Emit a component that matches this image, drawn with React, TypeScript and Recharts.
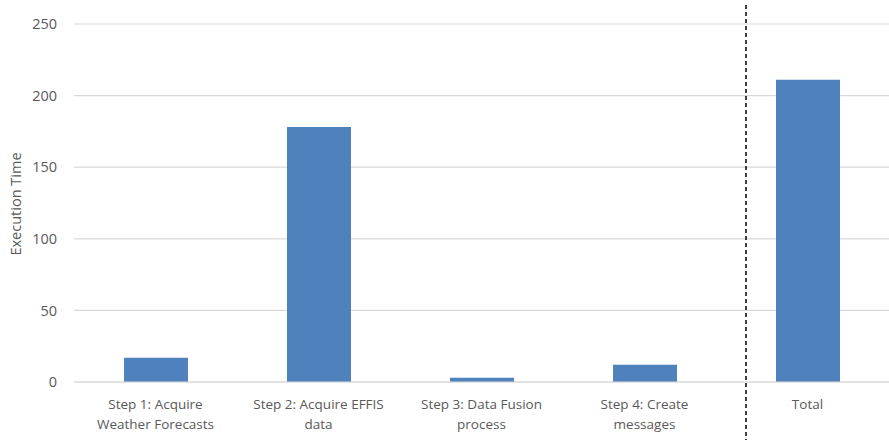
import React from 'react';
import {
  BarChart,
  Bar,
  XAxis,
  YAxis,
  CartesianGrid,
  ReferenceLine
} from 'recharts';

const categories = [
  'Step 1: Acquire Weather Forecasts',
  'Step 2: Acquire EFFIS data',
  'Step 3: Data Fusion process',
  'Step 4: Create messages',
  'Total'
];

const tickLines = [
  ['Step 1: Acquire', 'Weather Forecasts'],
  ['Step 2: Acquire EFFIS', 'data'],
  ['Step 3: Data Fusion', 'process'],
  ['Step 4: Create', 'messages'],
  ['Total']
];

const executionTimes = [17, 178, 3, 12, 211];

const yTicks = [0, 50, 100, 150, 200, 250];

const data = categories.map((name, i) => ({
  name,
  lines: tickLines[i],
  value: executionTimes[i]
}));

const FONT = '"Open Sans", sans-serif';
const TEXT_COLOR = '#595959';

const CategoryTick = ({ x, y, payload }: any) => {
  const idx = categories.indexOf(payload.value);
  const lines = tickLines[idx] || [payload.value];
  return (
    <g transform={`translate(${x},${y})`}>
      {lines.map((line, i) => (
        <text
          key={i}
          x={0}
          y={i * 19.5 + 14}
          textAnchor="middle"
          dominantBaseline="central"
          fill={TEXT_COLOR}
          fontSize={13.5}
          fontFamily={FONT}
        >
          {line}
        </text>
      ))}
    </g>
  );
};

// dashed separator, sits a bit right of where the "Total" band begins
const SeparatorLine = (props: any) => {
  const { x1, y1, y2 } = props;
  const x = x1 + 20;
  return (
    <line
      x1={x}
      x2={x}
      y1={Math.min(y1, y2) - 19}
      y2={Math.max(y1, y2) + 58}
      stroke="#000"
      strokeWidth={1.5}
      strokeDasharray="4 3"
    />
  );
};

export default function App() {
  return (
    <div style={{ position: 'absolute', left: 0, top: 0, background: '#fff' }}>
      <BarChart
        width={889}
        height={440}
        data={data}
        margin={{ top: 24, right: 0, bottom: 0, left: 0 }}
      >
        <CartesianGrid vertical={false} stroke="#d9d9d9" strokeWidth={1.2} />
        <XAxis
          dataKey="name"
          height={58}
          axisLine={{ stroke: '#d9d9d9', strokeWidth: 1.2 }}
          tickLine={false}
          tick={<CategoryTick />}
          interval={0}
        />
        <YAxis
          width={74}
          domain={[0, 250]}
          ticks={yTicks}
          axisLine={false}
          tickLine={false}
          tickSize={0}
          tickMargin={17}
          tick={{ fill: TEXT_COLOR, fontSize: 14.5, fontFamily: FONT }}
          label={{
            value: 'Execution Time',
            content: () => (
              <text
                x={15}
                y={204}
                transform="rotate(-90 15 204)"
                textAnchor="middle"
                dominantBaseline="central"
                fill={TEXT_COLOR}
                fontSize={14.5}
                fontFamily={FONT}
              >
                Execution Time
              </text>
            )
          }}
        />
        <ReferenceLine
          x="Total"
          position="start"
          shape={<SeparatorLine />}
          ifOverflow="visible"
        />
        <Bar dataKey="value" fill="#4f81bd" barSize={64} isAnimationActive={false} />
      </BarChart>
    </div>
  );
}
